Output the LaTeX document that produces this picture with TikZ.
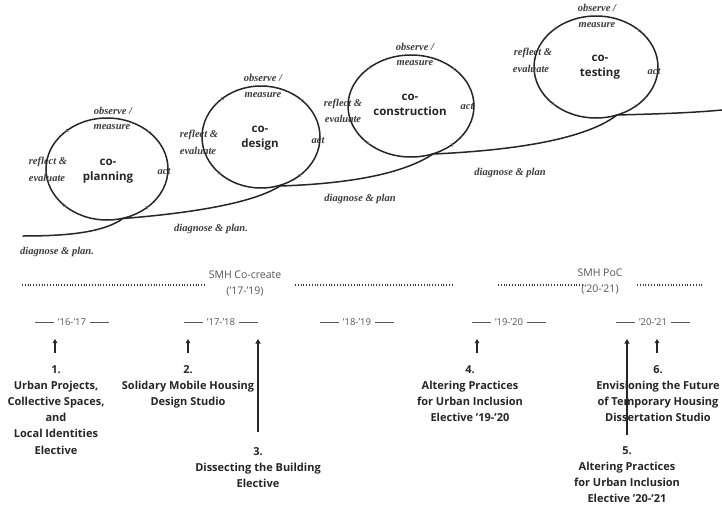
\documentclass[tikz,border=0pt]{standalone}
\usepackage{fontspec}
\setmainfont{Open Sans}
\newfontfamily\handfont{Liberation Serif}
\usetikzlibrary{decorations.markings,arrows.meta}
\definecolor{ink}{HTML}{262626}
\definecolor{soft}{HTML}{555555}
\definecolor{dots}{HTML}{383838}

\begin{document}
\begin{tikzpicture}[x=1pt,y=-1pt,
  path/.style={draw=ink,line width=1.5pt,line cap=round},
  cycleloop/.style={draw=ink,line width=1.5pt,postaction={decorate},
    decoration={markings,mark=between positions 0.125 and 0.875 step 0.25 with
      {\arrow[ink!60,line width=0.5pt]{Straight Barb[length=2pt,width=3.5pt]}}}},
  phase/.style={font=\fontsize{11.5}{15.5}\selectfont\bfseries,text=ink,align=center,inner sep=0pt},
  hand/.style={font=\handfont\itshape\bfseries\fontsize{10.5}{11}\selectfont,text=ink!90,inner sep=0pt},
  period/.style={font=\fontsize{10.5}{16}\selectfont,text=soft,align=center,inner sep=0pt},
  year/.style={font=\fontsize{9.5}{11}\selectfont,text=soft,inner sep=0pt},
  yearrule/.style={draw=soft,line width=0.6pt},
  dotline/.style={draw=dots,line width=2.4pt,dash pattern=on 1pt off 1.8pt},
  course/.style={font=\fontsize{11}{16.2}\selectfont\bfseries,text=ink,align=center,inner sep=0pt,anchor=north},
  pointer/.style={draw=ink,line width=1.3pt,-{Triangle[length=4pt,width=4.5pt]}},
  longpointer/.style={draw=ink,line width=1.6pt,-{Triangle[length=4.5pt,width=5pt]}}
]
\useasboundingbox[fill=white] (0,0) rectangle (722,506);

% ---- the four cycles of the spiral ----
\draw[cycleloop] (107,169) ellipse [x radius=61pt, y radius=51pt];
\draw[cycleloop] (261,137) ellipse [x radius=59pt, y radius=51pt];
\draw[cycleloop] (411,106) ellipse [x radius=63pt, y radius=51pt];
\draw[cycleloop] (596,67) ellipse [x radius=62pt, y radius=51pt];

% crossing points where the line enters and leaves each cycle
\coordinate (start) at (23,236);
\coordinate (x1) at (123,218.5);
\coordinate (x2) at (280,186);
\coordinate (x3) at (433,154);
\coordinate (x4) at (617,115);
\coordinate (finish) at (722,110);

\draw[path] (start) .. controls (70,236) and (104,232) .. (x1);
\draw[path] (x1) .. controls (180,214) and (250,205) .. (x2);
\draw[path] (x2) .. controls (340,184) and (400,176) .. (x3);
\draw[path] (x3) .. controls (500,151) and (582,142) .. (x4);
\draw[path] (x4) .. controls (655,114) and (690,113) .. (finish);

% ---- phase names ----
\node[phase] (p1) at (108,171) {co-\\planning};
\node[phase] (p2) at (260,138) {co-\\design};
\node[phase] (p3) at (410,105) {co-\\construction};
\node[phase] (p4) at (600,67) {co-\\testing};

% ---- action labels around each cycle ----
\node[hand] (o1a) at (113,111) {observe /};
\node[hand] (o1b) at (112,127) {measure};
\node[hand] (r1a) at (48,162) {reflect \&};
\node[hand] (r1b) at (47,178) {evaluate};
\node[hand] (a1) at (164,172) {act};

\node[hand] (o2a) at (263,78) {observe /};
\node[hand] (o2b) at (263,95) {measure};
\node[hand] (r2a) at (199,135) {reflect \&};
\node[hand] (r2b) at (198,151) {evaluate};
\node[hand] (a2) at (318,141) {act};

\node[hand] (o3a) at (415,47) {observe /};
\node[hand] (o3b) at (415,63) {measure};
\node[hand] (r3a) at (343,104) {reflect \&};
\node[hand] (r3b) at (343,119) {evaluate};
\node[hand] (a3) at (467,107) {act};

\node[hand] (o4a) at (597,8) {observe /};
\node[hand] (o4b) at (597,25) {measure};
\node[hand] (r4a) at (533,53) {reflect \&};
\node[hand] (r4b) at (531,69) {evaluate};
\node[hand] (a4) at (654,72) {act};

\node[hand] (d0) at (57,252) {diagnose \& plan.};
\node[hand] (d1) at (211,229) {diagnose \& plan.};
\node[hand] (d2) at (360,199) {diagnose \& plan};
\node[hand] (d3) at (510,173) {diagnose \& plan};

% ---- project periods ----
\node[period] (smh1) at (245,284) {SMH Co-create\\(’17-’19)};
\node[period] (smh2) at (600,282) {SMH PoC\\(’20-’21)};
\coordinate (dotA) at (22,285);
\coordinate (dotB) at (206,285);
\coordinate (dotC) at (295,285);
\coordinate (dotD) at (452,285);
\coordinate (dotE) at (498,285);
\coordinate (dotF) at (583,285);
\coordinate (dotG) at (637,285);
\coordinate (dotH) at (702,285);
\draw[dotline] (dotA) -- (dotB);
\draw[dotline] (dotC) -- (dotD);
\draw[dotline] (dotE) -- (dotF);
\draw[dotline] (dotG) -- (dotH);

% ---- academic years ----
\node[year] (y1) at (72,322) {’16-’17};
\node[year] (y2) at (221,322) {’17-’18};
\node[year] (y3) at (357,322) {’18-’19};
\node[year] (y4) at (509,322) {’19-’20};
\node[year] (y5) at (653,322) {’20-’21};
\foreach \y in {y1,y2,y3,y4,y5}{
  \draw[yearrule] ([xshift=-4pt]\y.west) -- ++(-19,0);
  \draw[yearrule] ([xshift=4pt]\y.east) -- ++(19,0);
}

% ---- courses ----
\node[course] (c1) at (56,365) {1.\\Urban Projects,\\Collective Spaces,\\and\\Local Identities\\Elective};
\node[course] (c2) at (188,365) {2.\\Solidary Mobile Housing\\Design Studio};
\node[course] (c3) at (258,447) {3.\\Dissecting the Building\\Elective};
\node[course] (c4) at (470,365) {4.\\Altering Practices\\for Urban Inclusion\\Elective ’19-’20};
\node[course] (c5) at (627,446) {5.\\Altering Practices\\for Urban Inclusion\\Elective ’20-’21};
\node[course] (c6) at (658,365) {6.\\Envisioning the Future\\of Temporary Housing\\Dissertation Studio};

% pointers from each course up to its year
\coordinate (t1) at (55,339);
\coordinate (t2) at (188,339);
\coordinate (t3) at (258,339);
\coordinate (t4) at (477,339);
\coordinate (t5) at (627,339);
\coordinate (t6) at (657,339);
\draw[pointer] (c1.north -| t1) ++(0,-12) -- (t1);
\draw[pointer] (c2.north -| t2) ++(0,-12) -- (t2);
\draw[pointer] (c4.north -| t4) ++(0,-12) -- (t4);
\draw[pointer] (c6.north -| t6) ++(0,-12) -- (t6);
\draw[longpointer] (c3.north -| t3) ++(0,-15) -- (t3);
\draw[longpointer] (c5.north -| t5) ++(0,-11) -- (t5);
\end{tikzpicture}
\end{document}
